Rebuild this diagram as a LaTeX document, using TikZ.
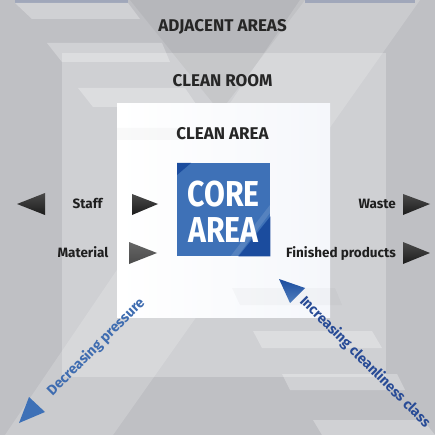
\documentclass[tikz,border=0pt]{standalone}
\usepackage{fontspec}
\setmainfont{Fira Sans}
\definecolor{outergray}{RGB}{191,192,196}
\definecolor{roomgray}{RGB}{207,208,211}
\definecolor{whiteR}{RGB}{245,247,251}
\definecolor{coreblue}{RGB}{62,113,183}
\definecolor{coredark}{RGB}{27,76,158}
\definecolor{arrowblk}{RGB}{28,28,28}
\definecolor{arrowgray}{RGB}{75,75,75}
\definecolor{txtblue}{RGB}{62,108,176}
\definecolor{txtnavy}{RGB}{40,75,150}
\definecolor{topblue}{RGB}{160,167,186}
\begin{document}
\begin{tikzpicture}[x=1pt,y=-1pt,
  lbl/.style={font=\fontsize{13.5}{16}\selectfont\bfseries, text=black!88, inner sep=0},
  head/.style={font=\fontsize{17}{20}\selectfont\bfseries, text=black!85, inner sep=0},
  diag/.style={font=\fontsize{14.2}{16}\selectfont\bfseries, inner sep=0},
  stripe/.style={fill=white, fill opacity=0.28},
  faint/.style={fill=black, fill opacity=0.025},
  blk/.style={top color=arrowblk!80, bottom color=arrowblk}]
\useasboundingbox (0,0) rectangle (435,435);
% background
\fill[outergray] (0,0) rectangle (435,435);
\fill[roomgray] (62,53) rectangle (386,377);
% light diagonal band
\fill[white, fill opacity=0.18] (5,435) -- (300,0) -- (420,0) -- (113,435) -- cycle;
% darker V at top
\fill[black, fill opacity=0.045] (130,0) -- (305,0) -- (220,112) -- cycle;
% top blue edges
\fill[topblue] (15,0) rectangle (128,3);
\fill[topblue] (305,0) rectangle (415,3);
% stripes
\fill[stripe] (15,3) -- (128,3) -- (140,19) -- (32,19) -- cycle;
\fill[stripe] (47,43) -- (162,43) -- (170,62) -- (62,62) -- cycle;
\fill[stripe] (78,88) -- (185,88) -- (198,107) -- (93,107) -- cycle;
\fill[stripe] (253,331) -- (372,331) -- (382,348) -- (262,348) -- cycle;
\fill[stripe] (282,374) -- (397,374) -- (405,390) -- (290,390) -- cycle;
\fill[stripe] (313,420) -- (423,420) -- (435,435) -- (322,435) -- cycle;
% clean area
\shade[left color=white, right color=whiteR] (117,104) rectangle (330,317);
\fill[faint] (232,288) -- (335,288) -- (342,305) -- (240,305) -- cycle;
\fill[faint] (117,128) -- (180,128) -- (185,140) -- (117,140) -- cycle;
% core area
\node[fill=coreblue, minimum size=93pt, inner sep=0, anchor=north west] (core) at (177,163) {};
\fill[coredark] (core.north west) -- ++(14,0) -- ++(-14,12) -- cycle;
\fill[white, fill opacity=0.12] (core.south east) ++(0,-52) -- ++(0,8) -- ++(-33,44) -- ++(-7,0) -- cycle;
\fill[coredark] (core.south east) -- ++(0,-40) -- ++(-32,40) -- cycle;
\node[font=\fontsize{36}{40}\selectfont\bfseries, text=white, inner sep=0, anchor=base] (coretxt) at (223.5,207) {\scalebox{0.84}[1]{CORE}};
\node[font=\fontsize{36}{40}\selectfont\bfseries, text=white, inner sep=0, anchor=base] (areatxt) at (223.5,242) {\scalebox{0.84}[1]{AREA}};
% headings
\node[head, anchor=base] (adj) at (222.5,32) {ADJACENT AREAS};
\node[head, anchor=base] (room) at (222.5,87) {CLEAN ROOM};
\node[head, anchor=base] (clean) at (222.5,140) {CLEAN AREA};
% labels
\node[lbl, anchor=base] (staff) at (87.5,208) {Staff};
\node[lbl, anchor=base] (material) at (83,257) {Material};
\node[lbl, anchor=base east] (waste) at (396,208) {Waste};
\node[lbl, anchor=base east] (finished) at (396,257) {Finished products};
% black arrows
\shade[blk] (17,204) -- (45,193) -- (45,215) -- cycle;
\shade[blk] (132,194) -- (158,204) -- (132,215) -- cycle;
\shade[top color=arrowgray!85, bottom color=arrowgray] (129,242) -- (157,253) -- (129,264) -- cycle;
\shade[blk] (403,194) -- (430,204) -- (403,215) -- cycle;
\shade[blk] (403,242) -- (430,253) -- (403,264) -- cycle;
% blue direction arrows
\fill[coreblue] (19,423) -- (29,397) -- (45,412) -- cycle;
\shade[top color=coredark, bottom color=coreblue!90!white] (279,279) -- (305,288) -- (290,303) -- cycle;
\node[diag, rotate=45, text=txtblue] (dec) at (96,347) {Decreasing pressure};
\node[diag, rotate=-45, text=txtnavy] (inc) at (365,362) {Increasing cleanliness class};
\end{tikzpicture}
\end{document}
